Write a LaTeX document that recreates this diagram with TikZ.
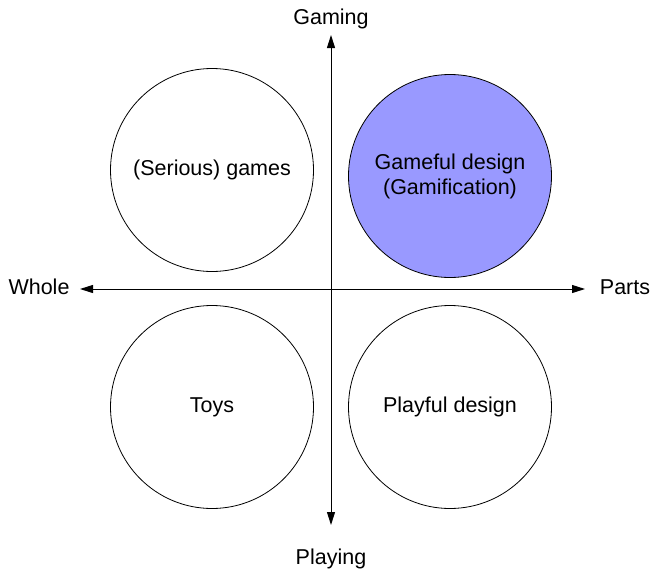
\documentclass[tikz,border=0pt]{standalone}
\usepackage{fontspec}
\setmainfont{Liberation Sans}
\usetikzlibrary{arrows.meta}

\definecolor{gameblue}{HTML}{9999FF}

\begin{document}
\begin{tikzpicture}[x=1pt, y=-1pt,
    quad/.style={circle, draw, line width=0.8pt, minimum size=203pt, inner sep=0pt, align=center, font=\fontsize{21.5}{25}\selectfont},
    axislabel/.style={font=\fontsize{21.5}{25}\selectfont, inner sep=0pt},
    axis/.style={line width=1pt, {Triangle[length=13pt,width=8pt]}-{Triangle[length=13pt,width=8pt]}}]

        % keep the size of the reference
        \useasboundingbox (0,0) rectangle (651,573);

        % the four circles
        \node[quad] (games) at (212,170) {(Serious) games};
        \node[quad, fill=gameblue] (gameful) at (450,176) {Gameful design\\(Gamification)};
        \node[quad] (toys) at (212,407) {Toys};
        \node[quad] (playful) at (450,407) {Playful design};

        % labels at the ends of the axes
        \node[axislabel] (gaming) at (331,19) {Gaming};
        \node[axislabel] (playing) at (331,559) {Playing};
        \node[axislabel] (whole) at (39,287) {Whole};
        \node[axislabel] (parts) at (625,287) {Parts};

        % the two axes
        \coordinate (top) at (331,35);
        \coordinate (bottom) at (331,525);
        \coordinate (left) at (80,289);
        \coordinate (right) at (585,289);
        \draw[axis] (top) -- (bottom);
        \draw[axis] (left) -- (right);

\end{tikzpicture}
\end{document}
